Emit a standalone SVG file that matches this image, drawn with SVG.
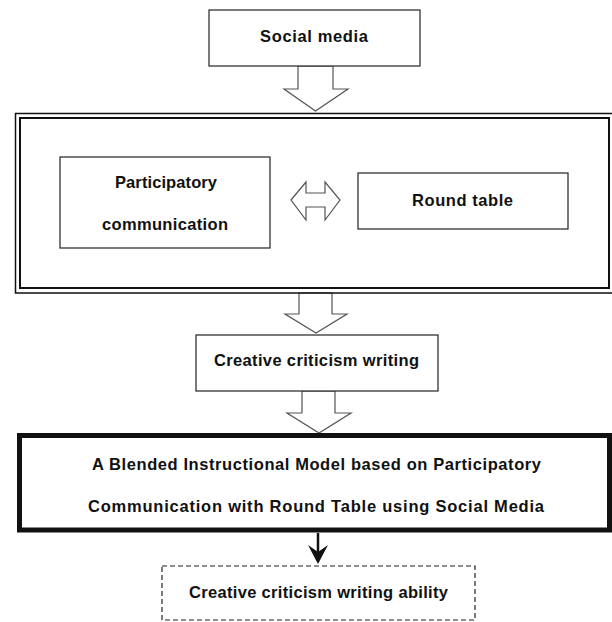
<svg xmlns="http://www.w3.org/2000/svg" width="612" height="622" viewBox="0 0 612 622">
<style>
.box{fill:#fff;stroke:#222;stroke-width:1.2}
.blk{fill:#fff;stroke:#555;stroke-width:1.2;stroke-linejoin:miter}
.t{font-family:"Liberation Sans",Arial,sans-serif;font-weight:bold;font-size:16.5px;fill:#111;text-anchor:middle}
</style>
<rect width="612" height="622" fill="#fff"/>
<g id="connectors">
  <polygon class="blk" points="298,66 333,66 333,89 348,89 315.5,111 284,89 298,89"/>
  <polygon class="blk" points="299,293 332,293 332,314 347,314 316,333 285,314 299,314"/>
  <polygon class="blk" points="302,391 335,391 335,413 351,413 319,433 287,413 302,413"/>
  <polygon class="blk" points="291,200 306,182 306,193 325,193 325,182 340,200 325,220 325,207 306,207 306,220"/>
  <line x1="318" y1="533" x2="318" y2="556" stroke="#111" stroke-width="2.5"/>
  <polygon points="308,545 318,564 328,545 318,552" fill="#111"/>
</g>
<g id="social-media">
  <rect class="box" x="209" y="10" width="211" height="56"/>
  <text class="t" x="314" y="42" textLength="108" lengthAdjust="spacing">Social media</text>
</g>
<g id="container">
  <rect x="15.5" y="113.5" width="598" height="179.5" fill="none" stroke="#111" stroke-width="1.5"/>
  <rect x="20" y="118" width="589" height="170" fill="none" stroke="#111" stroke-width="2"/>
</g>
<g id="participatory-communication">
  <rect class="box" x="60" y="157" width="210" height="91"/>
  <text class="t" x="166" y="188" textLength="102" lengthAdjust="spacing">Participatory</text>
  <text class="t" x="165" y="230" textLength="126" lengthAdjust="spacing">communication</text>
</g>
<g id="round-table">
  <rect class="box" x="358" y="173" width="210" height="56"/>
  <text class="t" x="462.5" y="206" textLength="101" lengthAdjust="spacing">Round table</text>
</g>
<g id="creative-criticism-writing">
  <rect class="box" x="196" y="335" width="242" height="56"/>
  <text class="t" x="316.5" y="366" textLength="205" lengthAdjust="spacing">Creative criticism writing</text>
</g>
<g id="blended-model">
  <rect x="19.5" y="435.5" width="590" height="94.5" fill="#fff" stroke="#111" stroke-width="5"/>
  <text class="t" x="316.5" y="470" textLength="449" lengthAdjust="spacing">A Blended Instructional Model based on Participatory</text>
  <text class="t" x="316" y="512" textLength="456" lengthAdjust="spacing">Communication with Round Table using Social Media</text>
</g>
<g id="creative-criticism-writing-ability">
  <rect x="162" y="566" width="313" height="54" fill="#fff" stroke="#222" stroke-width="1.2" stroke-dasharray="5,3"/>
  <text class="t" x="318.5" y="598" textLength="259" lengthAdjust="spacing">Creative criticism writing ability</text>
</g>
</svg>
